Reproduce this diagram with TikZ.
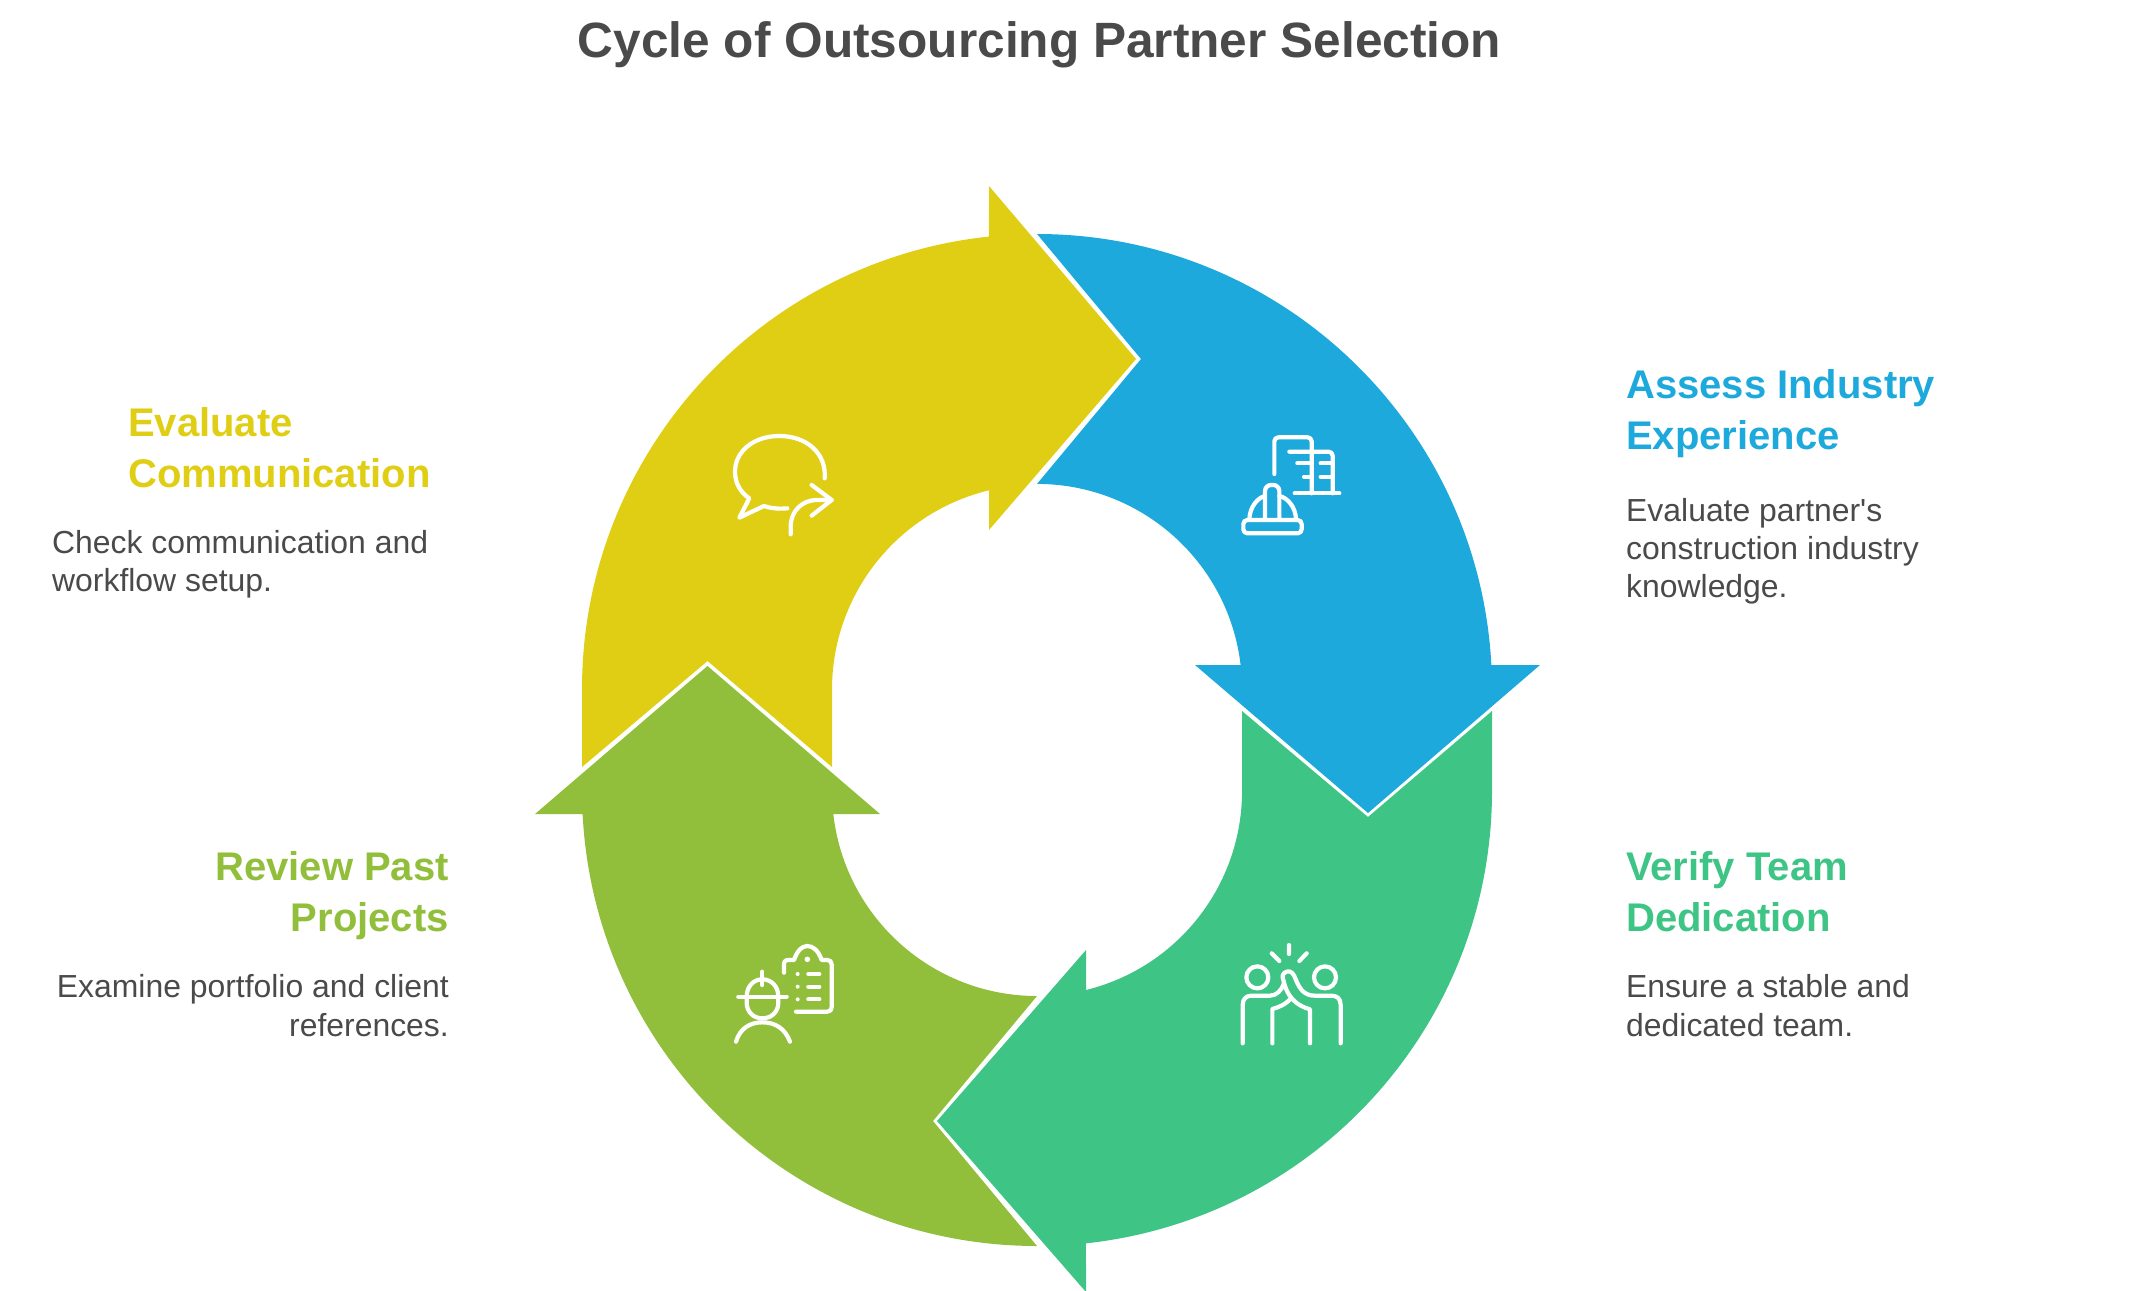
\documentclass[tikz,border=0pt]{standalone}
\usepackage{fontspec}
\setmainfont{Liberation Sans}
\definecolor{cyellow}{HTML}{E0CE14}
\definecolor{cblue}{HTML}{1EA9DC}
\definecolor{cgreen}{HTML}{3EC585}
\definecolor{colive}{HTML}{92BF3B}
\definecolor{ctext}{HTML}{4A4A4A}
\tikzset{
  headbase/.style={inner sep=0pt,yshift=30pt,font=\fontsize{40}{51}\selectfont\bfseries,execute at begin node=\rule{0pt}{40pt}},
  bodybase/.style={inner sep=0pt,yshift=22pt,text=ctext,font=\fontsize{31.9}{38.2}\selectfont,execute at begin node=\rule{0pt}{40pt}},
  lefttext/.style={anchor=north west,align=left},
  righttext/.style={anchor=north east,align=right},
  icon/.style={draw=white,line width=4.2pt,line cap=round,line join=round,fill=none},
  icondot/.style={fill=white,draw=none}
}
\begin{document}
\begin{tikzpicture}[x=1pt,y=-1pt]
\useasboundingbox (0,0) rectangle (2130,1290);
% yellow
\fill[cyellow] (582,767) -- (582,689) arc[start angle=180,end angle=263.94,radius=455]
  -- (989,186) -- (1136,359) -- (989,530) -- (989,490.3)
  arc[start angle=256.46,end angle=180,radius=205] -- (832,767) -- (707.5,661) -- cycle;
% blue
\fill[cblue] (1037,234) arc[start angle=270,end angle=357,radius=455]
  -- (1540,665) -- (1368,813) -- (1195,665) -- (1240.6,665)
  arc[start angle=353.3,end angle=270,radius=205] -- (1141,359) -- cycle;
% green
\fill[cgreen] (1242,711) -- (1368,817) -- (1492,711) -- (1492,791)
  arc[start angle=0,end angle=83.82,radius=455]
  -- (1086,1292) -- (937,1121) -- (1086,950) -- (1086,990)
  arc[start angle=76.18,end angle=0,radius=205] -- cycle;
% olive
\fill[colive] (535,814) -- (707.5,666) -- (880,814) -- (833.3,814)
  arc[start angle=173.56,end angle=90,radius=205] -- (933,1121) -- (1037,1246)
  arc[start angle=90,end angle=177.1,radius=455] -- cycle;
% icon: speech bubble
\begin{scope}[shift={(700,400)},x=1pt/3,y=-1pt/3]
\draw[icon] (374,235) .. controls (380,160) and (320,108) .. (238,108) .. controls (160,108) and (105,155) .. (105,215) .. controls (105,250) and (122,278) .. (148,295) -- (118,353) -- (192,318) .. controls (215,326) and (240,327) .. (262,325);
\draw[icon] (272,403) -- (272,380) .. controls (272,330) and (310,300) .. (350,300) -- (395,300);
\draw[icon] (335,255) -- (395,300) -- (335,347);
\end{scope}
% icon: buildings and helmet
\begin{scope}[shift={(1220,410)},x=1pt/3,y=-1pt/3]
\draw[icon,rounded corners=4pt] (163,192) -- (163,82) -- (275,82) -- (275,250);
\draw[icon,rounded corners=4pt] (208,125) -- (338,125) -- (338,250);
\draw[icon] (224,250) -- (358,250);
\draw[icon] (232,160) -- (275,160) (252,200) -- (275,200) (302,160) -- (338,160) (302,200) -- (338,200);
\draw[icon,rounded corners=4pt] (70,330) rectangle (245,370);
\draw[icon] (88,330) .. controls (88,290) and (115,262) .. (135,258);
\draw[icon] (228,330) .. controls (228,290) and (200,262) .. (178,258);
\draw[icon,rounded corners=6pt] (135,330) -- (135,225) -- (178,225) -- (178,330);
\end{scope}
% icon: high five
\begin{scope}[shift={(1220,930)},x=1pt/3,y=-1pt/3]
\draw[icon] (112,142) circle[radius=11pt];
\draw[icon] (315,142) circle[radius=11pt];
\draw[icon] (207,45) -- (207,72) (155,70) -- (178,93) (260,70) -- (238,93);
\draw[icon] (68,340) -- (68,225) .. controls (68,205) and (80,197) .. (95,197) -- (150,197) .. controls (170,197) and (185,180) .. (192,160);
\draw[icon] (362,340) -- (362,225) .. controls (362,205) and (350,197) .. (335,197) -- (285,197) .. controls (255,197) and (240,180) .. (228,150) .. controls (222,130) and (210,120) .. (200,125) .. controls (188,128) and (185,140) .. (190,150) .. controls (195,170) and (205,220) .. (270,238) -- (270,340);
\draw[icon] (157,340) -- (157,237) .. controls (175,232) and (195,225) .. (213,205);
\end{scope}
% icon: worker and clipboard
\begin{scope}[shift={(720,930)},x=1pt/3,y=-1pt/3]
\draw[icon] (192,128) -- (192,105) .. controls (192,95) and (195,90) .. (205,90) -- (222,90) .. controls (232,62) and (245,48) .. (262,48) .. controls (280,48) and (295,62) .. (305,90) -- (322,90) .. controls (330,90) and (335,95) .. (335,103) -- (335,232) .. controls (335,240) and (330,245) .. (322,245) -- (228,245);
\fill[icondot] (262,88) circle[radius=2.8pt];
\foreach \yy in {132,170,208} {
  \fill[icondot] (233,\yy) circle[radius=2pt];
  \draw[icon] (265,\yy) -- (298,\yy);
}
\draw[icon] (55,200) -- (200,200);
\draw[icon] (80,200) .. controls (80,170) and (100,148) .. (127,148) .. controls (155,148) and (175,170) .. (175,200) -- (175,218) .. controls (175,245) and (155,265) .. (127,265) .. controls (100,265) and (80,245) .. (80,218) -- cycle;
\draw[icon] (127,125) -- (127,165);
\draw[icon] (48,335) .. controls (60,295) and (90,277) .. (127,277) .. controls (165,277) and (195,295) .. (210,335);
\end{scope}
% texts
\node[anchor=base,inner sep=0pt,text=ctext,font=\fontsize{49.6}{58}\selectfont\bfseries] (title) at (1039.5,58) {Cycle of Outsourcing Partner Selection};
\node[headbase,lefttext,text=cblue] (h1) at (1626,399) {Assess Industry\\Experience};
\node[bodybase,lefttext] (b1) at (1626,520) {Evaluate partner\textquotesingle s\\construction industry\\knowledge.};
\node[headbase,lefttext,text=cgreen] (h2) at (1626,881) {Verify Team\\Dedication};
\node[bodybase,lefttext] (b2) at (1626,996.5) {Ensure a stable and\\dedicated team.};
\node[headbase,righttext,text=colive] (h3) at (449,881) {Review Past\\Projects};
\node[bodybase,righttext] (b3) at (449,996.5) {Examine portfolio and client\\references.};
\node[headbase,lefttext,text=cyellow] (h4) at (128,437) {Evaluate\\Communication};
\node[bodybase,lefttext] (b4) at (52,552) {Check communication and\\workflow setup.};
\end{tikzpicture}
\end{document}
